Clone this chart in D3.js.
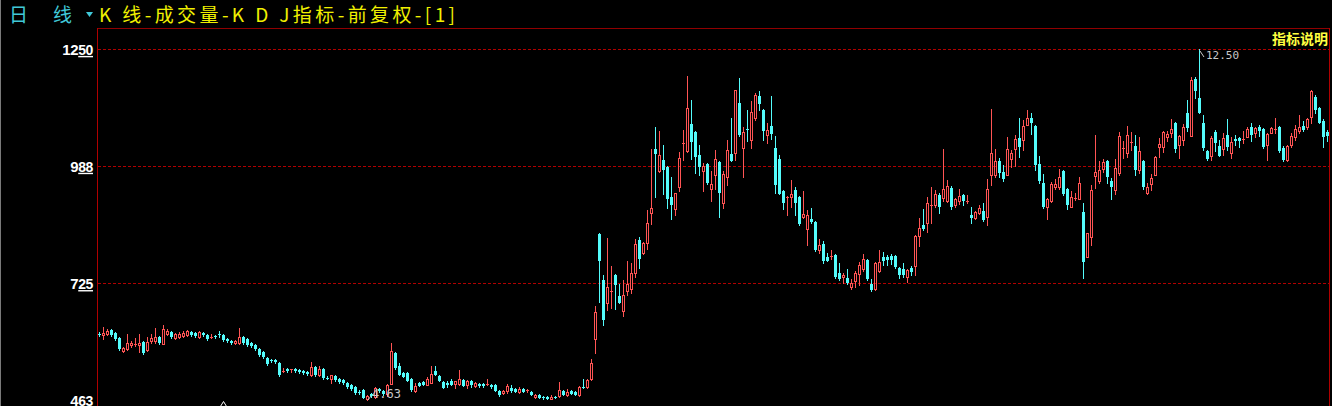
<!DOCTYPE html>
<html><head><meta charset="utf-8">
<script src="https://cdn.jsdelivr.net/npm/d3@7"></script>
<style>html,body{margin:0;padding:0;background:#000;overflow:hidden}svg{display:block}</style>
</head><body>
<svg id="c" width="1332" height="406"></svg>
<script>
// ---- data (daily OHLC, forward-adjusted) ----
const opens=[6.12,6.09,6.11,6.20,6.13,6.02,5.73,5.77,5.86,5.88,5.86,5.93,5.75,5.95,5.95,6.04,5.89,6.11,6.16,6.02,6.04,6.07,6.09,6.16,6.13,6.04,6.13,6.09,6.02,6.07,6.10,6.09,6.00,5.95,5.91,5.91,6.04,6.00,5.91,5.86,5.77,5.71,5.57,5.52,5.53,5.46,5.27,5.33,5.31,5.33,5.30,5.28,5.26,5.19,5.37,5.19,5.33,5.13,5.10,5.17,5.10,5.08,5.01,4.97,4.92,4.82,4.85,4.65,4.76,4.70,4.88,4.83,4.76,4.99,5.68,5.39,5.24,5.24,5.10,4.83,5.01,5.03,4.97,5.01,5.28,5.17,5.03,5.01,5.06,4.99,4.99,5.08,4.97,5.06,4.94,4.99,4.99,4.97,4.97,4.97,4.83,4.79,4.83,4.90,4.88,4.81,4.88,4.84,4.81,4.70,4.74,4.70,4.69,4.66,4.70,4.72,4.83,4.74,4.83,4.81,4.74,4.93,4.92,5.10,6.00,8.35,7.32,6.81,7.07,7.43,6.96,6.63,7.07,7.12,7.48,8.22,7.93,8.15,8.82,10.26,9.76,10.01,9.85,9.18,8.91,9.41,10.38,10.21,10.82,10.64,10.12,9.76,9.92,9.36,9.68,9.97,9.05,9.63,10.15,10.17,11.29,10.28,10.71,10.46,10.95,11.45,11.13,10.57,10.77,10.28,10.03,9.32,9.17,9.18,9.34,9.18,8.73,8.46,8.69,8.62,7.99,8.13,7.84,7.85,7.88,7.48,7.39,7.37,7.16,7.30,7.46,7.57,7.77,7.23,7.12,7.52,7.84,7.84,7.86,7.86,7.59,7.57,7.39,7.59,7.63,8.31,8.55,8.60,9.00,9.00,9.23,9.16,9.09,9.38,9.00,9.09,9.23,9.08,8.78,8.71,8.82,8.87,8.73,9.68,9.68,9.99,9.74,9.68,10.03,10.26,10.50,10.46,10.80,10.95,10.77,9.92,9.50,8.96,9.09,9.41,9.41,9.76,9.36,8.96,9.15,9.14,8.85,7.84,8.28,9.65,9.54,9.81,9.99,9.54,9.34,9.72,10.27,10.17,10.41,10.33,9.79,9.99,9.27,9.47,9.68,10.30,10.30,10.53,10.62,10.84,10.35,10.46,11.06,10.55,11.83,11.40,10.84,10.21,10.10,10.64,10.33,10.26,10.57,10.17,10.48,10.50,10.47,10.53,10.75,10.62,10.75,10.71,10.35,10.62,10.69,10.75,10.28,10.01,10.35,10.53,10.66,10.77,10.75,10.97,11.42,11.18,10.89,10.64];
const highs=[6.16,6.27,6.22,6.22,6.16,6.04,5.82,6.11,5.95,6.02,6.11,5.95,6.04,6.11,6.24,6.07,6.31,6.22,6.18,6.13,6.16,6.18,6.20,6.18,6.16,6.18,6.16,6.11,6.11,6.09,6.18,6.11,6.02,5.98,5.98,6.24,6.07,6.02,5.93,5.89,5.80,5.73,5.60,5.55,5.55,5.48,5.35,5.35,5.33,5.35,5.33,5.30,5.28,5.48,5.39,5.39,5.35,5.17,5.19,5.19,5.12,5.10,5.03,4.99,4.94,4.85,4.87,4.74,4.79,4.92,4.90,4.85,4.99,5.91,5.71,5.46,5.26,5.26,5.12,5.01,5.03,5.06,5.15,5.39,5.39,5.19,5.06,5.06,5.10,5.06,5.30,5.10,5.08,5.08,5.03,5.01,5.01,5.10,4.99,4.99,4.85,4.85,4.99,4.97,4.90,4.92,4.90,4.88,4.83,4.76,4.76,4.72,4.71,4.74,4.72,5.03,4.85,4.88,4.85,4.83,4.94,5.10,5.10,5.55,6.74,8.37,7.43,8.26,7.63,7.45,7.23,7.32,7.75,7.70,8.24,8.28,8.17,8.89,10.26,10.75,10.66,10.35,9.87,9.63,9.28,10.19,10.68,11.89,11.36,10.66,10.35,9.94,9.94,9.76,10.24,9.99,9.76,10.46,10.95,11.59,11.85,10.75,11.13,11.33,11.51,11.56,11.15,10.84,11.45,10.55,10.12,9.34,9.20,9.56,9.41,9.20,9.32,8.89,8.94,8.64,8.24,8.20,7.93,7.99,7.90,7.70,7.48,7.57,7.34,7.52,7.72,7.90,7.79,7.34,7.72,7.99,7.95,7.88,7.90,7.88,7.61,7.70,7.57,7.63,8.32,8.71,8.91,9.18,9.41,9.34,9.27,10.26,9.56,9.43,9.16,9.36,9.25,9.23,8.96,8.87,9.00,9.05,9.59,11.15,10.26,10.06,9.90,10.53,10.24,10.57,10.95,10.91,11.13,11.06,10.79,10.10,9.70,9.16,9.52,9.59,9.81,9.78,9.38,9.32,9.27,9.63,9.05,8.38,9.45,10.57,9.99,10.03,10.01,9.61,10.03,10.64,10.44,10.77,10.64,10.57,10.53,10.01,9.50,9.70,10.10,10.50,10.66,10.66,10.93,10.86,10.57,10.82,11.36,11.87,11.87,12.50,11.02,10.23,10.55,10.68,10.46,10.62,10.93,10.53,10.57,10.52,10.66,10.75,10.84,10.75,10.80,10.73,10.61,10.75,10.95,10.77,10.33,10.35,10.62,10.80,11.02,10.89,10.95,11.58,11.47,11.20,10.93,10.68];
const lows=[6.07,6.00,6.09,6.07,5.98,5.75,5.71,5.75,5.82,5.84,5.71,5.66,5.73,5.91,5.91,5.89,5.88,6.09,6.02,6.00,6.02,6.04,6.07,6.07,6.04,6.02,6.07,5.98,6.01,6.02,6.04,5.95,5.93,5.89,5.89,5.89,5.89,5.84,5.82,5.75,5.62,5.57,5.42,5.48,5.46,5.17,5.26,5.26,5.26,5.26,5.24,5.21,5.19,5.17,5.17,5.17,5.10,5.10,5.01,5.06,5.01,4.99,4.90,4.85,4.76,4.76,4.67,4.63,4.70,4.68,4.81,4.74,4.72,4.99,5.33,5.19,5.15,5.06,4.83,4.81,4.94,4.97,4.96,5.00,5.19,5.06,4.90,4.92,4.97,4.90,4.97,4.94,4.90,4.92,4.92,4.92,4.92,4.96,4.90,4.83,4.72,4.77,4.79,4.81,4.81,4.79,4.81,4.81,4.74,4.68,4.68,4.66,4.65,4.65,4.67,4.70,4.74,4.73,4.76,4.74,4.72,4.91,4.91,5.08,5.68,6.82,6.31,6.65,6.69,6.67,6.80,6.51,6.98,7.03,7.39,7.59,7.91,8.02,8.58,9.18,9.75,9.25,8.94,8.69,8.78,9.32,10.01,10.20,10.03,9.72,9.67,9.32,9.48,9.09,9.36,8.73,8.94,9.45,9.98,10.01,10.55,9.63,10.44,10.28,10.91,11.13,10.46,10.39,10.48,9.27,9.24,8.91,8.78,8.96,8.78,8.55,8.72,8.11,8.60,7.97,7.93,7.70,7.74,7.79,7.37,7.33,7.25,7.24,7.12,7.16,7.21,7.52,7.32,7.07,7.10,7.51,7.66,7.66,7.68,7.59,7.37,7.39,7.28,7.43,7.43,8.08,8.44,8.40,8.60,8.96,8.82,9.09,9.08,8.91,8.96,9.02,9.00,9.05,8.60,8.69,8.81,8.64,8.55,9.45,9.63,9.63,9.54,9.67,9.85,9.88,10.08,10.24,10.79,10.59,9.79,9.50,8.94,8.69,9.08,9.36,9.36,9.23,8.91,8.95,9.11,9.13,7.37,7.83,8.11,9.38,9.50,9.74,9.50,9.14,9.25,9.68,10.06,10.08,10.24,9.68,9.72,9.36,9.26,9.34,9.67,10.08,10.19,10.44,10.53,10.19,10.06,10.35,10.66,10.54,11.40,11.06,10.24,10.01,10.01,10.21,10.09,10.12,10.24,10.06,10.35,10.30,10.39,10.52,10.44,10.53,10.55,10.28,10.01,10.61,10.62,10.19,9.99,9.99,10.30,10.46,10.62,10.67,10.71,10.84,11.06,10.83,10.30,10.44];
const closes=[6.11,6.13,6.18,6.09,6.00,5.77,5.80,5.91,5.91,5.89,5.91,5.68,5.93,6.02,6.04,5.91,6.22,6.18,6.04,6.11,6.11,6.13,6.18,6.09,6.07,6.16,6.09,6.00,6.04,6.04,6.09,5.98,5.95,5.91,5.95,6.04,5.91,5.86,5.84,5.77,5.64,5.60,5.44,5.51,5.48,5.19,5.28,5.28,5.33,5.28,5.26,5.24,5.21,5.37,5.19,5.33,5.12,5.12,5.19,5.08,5.03,5.01,4.92,4.88,4.79,4.81,4.68,4.72,4.72,4.90,4.83,4.76,4.97,5.73,5.35,5.19,5.15,5.06,4.85,4.94,4.94,4.97,5.10,5.21,5.19,5.06,4.90,4.97,4.97,5.06,5.10,4.94,5.06,4.97,5.01,4.94,4.94,4.99,4.92,4.83,4.74,4.83,4.94,4.83,4.81,4.88,4.81,4.85,4.74,4.74,4.68,4.67,4.66,4.70,4.69,4.85,4.74,4.81,4.77,4.74,4.92,4.92,5.08,5.46,6.60,7.75,6.42,7.16,7.08,7.21,6.81,6.98,7.23,7.48,8.13,7.79,8.15,8.60,8.94,10.15,10.12,9.79,9.14,9.00,9.27,10.06,10.40,11.18,10.42,10.08,9.85,9.88,9.50,9.47,10.03,9.27,9.70,10.24,9.99,11.58,10.57,10.64,10.70,11.09,11.47,11.27,10.66,10.68,10.59,9.45,9.25,9.05,9.18,9.25,9.05,8.58,8.80,8.78,8.62,7.99,8.11,7.75,7.75,7.86,7.39,7.34,7.43,7.25,7.25,7.48,7.66,7.79,7.34,7.10,7.70,7.72,7.75,7.77,7.77,7.61,7.43,7.43,7.54,7.50,8.31,8.49,8.46,9.05,9.01,9.25,8.96,9.36,9.43,8.96,9.14,9.20,9.09,9.09,8.71,8.85,8.94,8.67,9.36,10.17,9.99,9.72,9.58,10.26,10.17,10.48,10.30,10.77,10.95,10.84,9.90,9.54,8.96,9.14,9.47,9.47,9.63,9.25,9.00,9.18,9.16,9.50,7.72,8.37,9.34,9.74,9.79,9.97,9.63,9.41,9.83,10.55,10.28,10.57,10.42,9.79,10.21,9.41,9.41,9.61,10.08,10.37,10.64,10.59,10.71,10.26,10.55,10.75,10.73,11.80,11.56,11.07,10.28,10.03,10.50,10.39,10.10,10.50,10.30,10.41,10.44,10.44,10.48,10.71,10.57,10.73,10.66,10.30,10.59,10.73,10.71,10.21,10.01,10.33,10.55,10.71,10.75,10.68,10.93,11.56,11.13,10.84,10.53,10.55];
const tickValues=[4.63,7.25,9.88,12.50];
const tickLabels=["4.63","7.25","9.88","12.50"];
const gridValues=[7.25,9.88,12.50];
const periodChars=["日","线"];
const titleText="K 线-成交量-K D J指标-前复权-[1]";
const cornerText="指标说明";
const markerIdx=[31];

// ---- setup ----
const W=1332,H=406;
const svg=d3.select("#c").attr("shape-rendering","crispEdges");
svg.append("rect").attr("width",W).attr("height",H).attr("fill","#000");
const n=opens.length;
const x=d3.scaleLinear().domain([0,n-1]).range([99,99+4*(n-1)]);
const y=d3.scaleLinear().domain([4.63,12.50]).range([400,49]);
const RED="#ff5454", CYAN="#54fcfc", AXRED="#b00000";

// frame
svg.append("line").attr("x1",0.5).attr("x2",0.5).attr("y1",0).attr("y2",H).attr("stroke","#7a7a7a");
svg.append("line").attr("x1",97).attr("x2",1330).attr("y1",28.5).attr("y2",28.5).attr("stroke","#900000");
svg.append("line").attr("x1",97.5).attr("x2",97.5).attr("y1",28).attr("y2",H).attr("stroke",AXRED);
svg.append("line").attr("x1",1329.5).attr("x2",1329.5).attr("y1",28).attr("y2",H).attr("stroke",AXRED);

// grid
svg.append("g").selectAll("line").data(gridValues).join("line")
  .attr("x1",98).attr("x2",1329)
  .attr("y1",d=>Math.round(y(d))+0.5).attr("y2",d=>Math.round(y(d))+0.5)
  .attr("stroke","#b00000").attr("stroke-dasharray","3,2");

// y axis
const ax=svg.append("g").attr("transform","translate(97,0)")
  .call(d3.axisLeft(y).tickValues(tickValues).tickSize(0).tickPadding(4));
ax.select(".domain").remove();
ax.selectAll(".tick text").each(function(d){
  const lab=tickLabels[tickValues.indexOf(d)];
  const [a,b]=lab.split(".");
  const t=d3.select(this).text(null).attr("fill","#fff")
    .attr("font-family","'Liberation Sans',Arial,sans-serif").attr("font-size",15)
    .attr("font-weight","bold").attr("letter-spacing","-0.4").attr("dy","0.36em");
  t.append("tspan").text(a);
  t.append("tspan").text(b).attr("text-decoration","underline").attr("font-size",14);
});

// candles
const cg=svg.append("g");
d3.range(n).forEach(i=>{
  const O=opens[i],Hh=highs[i],L=lows[i],C=closes[i];
  const cx=Math.round(x(i));
  const yo=Math.round(y(O)),yc=Math.round(y(C)),yh=Math.round(y(Hh)),yl=Math.round(y(L));
  const top=Math.min(yo,yc),bot=Math.max(yo,yc);
  const up=C>=O;
  const col=up?RED:CYAN;
  if(up && bot-top>=2){
    if(yh<top) cg.append("line").attr("x1",cx+0.5).attr("x2",cx+0.5).attr("y1",yh).attr("y2",top).attr("stroke",col);
    if(yl>bot) cg.append("line").attr("x1",cx+0.5).attr("x2",cx+0.5).attr("y1",bot+1).attr("y2",yl+1).attr("stroke",col);
    cg.append("rect").attr("x",cx-0.5).attr("y",top+0.5).attr("width",2).attr("height",bot-top)
      .attr("fill","none").attr("stroke",col);
  } else {
    cg.append("line").attr("x1",cx+0.5).attr("x2",cx+0.5).attr("y1",yh).attr("y2",yl+1).attr("stroke",col);
    cg.append("rect").attr("x",cx-1).attr("y",top).attr("width",3).attr("height",Math.max(1,bot-top)).attr("fill",col);
  }
});

// high / low annotations
const lab=svg.append("g").attr("font-family","'DejaVu Sans Mono',monospace").attr("fill","#c8c8c8");
const hi=d3.maxIndex(highs), lo=d3.minIndex(lows);
const hx=Math.round(x(hi)), hy=y(highs[hi]);
svg.append("line").attr("x1",hx+1).attr("y1",hy+2).attr("x2",hx+5).attr("y2",hy+8).attr("stroke","#c8c8c8").attr("shape-rendering","auto");
lab.append("text").attr("x",hx+7).attr("y",hy+9.5).attr("font-size",11).text(highs[hi].toFixed(2));
const lx=Math.round(x(lo)), ly=y(lows[lo]);
svg.append("line").attr("x1",lx+1).attr("y1",ly).attr("x2",lx+4).attr("y2",ly-4).attr("stroke","#c8c8c8").attr("shape-rendering","auto");
lab.append("text").attr("x",lx+5).attr("y",ly-2).attr("font-size",12).text(lows[lo].toFixed(2));

// marker triangle
svg.append("g").selectAll("path").data(markerIdx).join("path")
  .attr("d",i=>{const c=Math.round(x(i))+0.5;return `M${c-4},408L${c},401.5L${c+4},408`;})
  .attr("fill","none").attr("stroke","#fff").attr("shape-rendering","auto");

// title
const tg=svg.append("g").attr("font-family","'Noto Sans CJK SC',sans-serif").attr("font-size",19);
tg.selectAll("text.p").data(periodChars).join("text").attr("class","p")
  .attr("x",(d,i)=>i?53:9).attr("y",22).attr("fill","#40c8d8").text(d=>d);
svg.append("path").attr("d","M86,12L93,12L89.5,17Z").attr("fill","#40c8d8").attr("shape-rendering","auto");
tg.append("text").attr("x",99).attr("y",22).attr("fill","#f0f000")
  .attr("textLength",356).attr("lengthAdjust","spacing").text(titleText);
svg.append("text").attr("x",1328).attr("y",44).attr("text-anchor","end")
  .attr("font-family","'Noto Sans CJK SC',sans-serif").attr("font-size",14).attr("font-weight","bold")
  .attr("fill","#ffff40").text(cornerText);
</script>
</body></html>
